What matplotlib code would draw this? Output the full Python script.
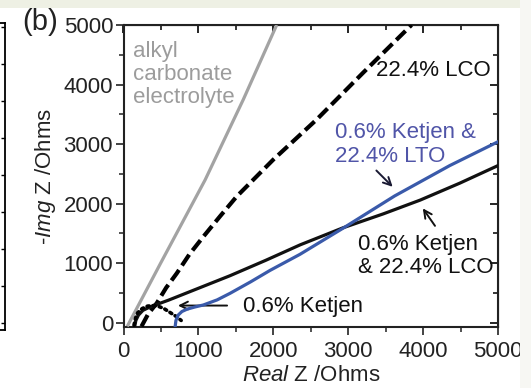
import matplotlib
matplotlib.use("Agg")
import matplotlib.pyplot as plt
from matplotlib.patches import Rectangle
from matplotlib.ticker import MultipleLocator

plt.rcParams['font.family'] = ['Liberation Sans', 'DejaVu Sans']
plt.rcParams['mathtext.fontset'] = 'custom'
plt.rcParams['mathtext.rm'] = 'Liberation Sans'
plt.rcParams['mathtext.it'] = 'Liberation Sans:italic'

# ---- data (Real Z, -Img Z) in Ohms ----
alkyl_x = [50, 495, 1090, 1600, 2045]
alkyl_y = [-60, 1000, 2400, 3750, 5000]

lco_x = [240, 330, 444, 570, 711, 880, 1067, 1290, 1511, 2000, 2578, 3200, 3845]
lco_y = [-60, 150, 330, 590, 831, 1150, 1448, 1790, 2121, 2740, 3412, 4200, 5000]

ket_lco_x = [150, 165, 200, 260, 360, 600, 1000, 1420, 1900, 2360, 2930, 3470, 3960, 4490, 5000]
ket_lco_y = [-60, 40, 130, 210, 270, 380, 580, 790, 1050, 1310, 1595, 1830, 2060, 2345, 2640]

ket_lto_x = [690, 700, 730, 780, 850, 950, 1067, 1250, 1422, 1700, 1956, 2356, 2933, 3620, 4356, 5000]
ket_lto_y = [-60, 40, 130, 190, 230, 265, 300, 385, 495, 690, 880, 1150, 1590, 2130, 2640, 3040]

ket_x = [140, 160, 190, 250, 320, 400, 470, 540, 620, 700, 770]
ket_y = [-40, 80, 170, 240, 280, 290, 275, 240, 175, 110, 40]

x_ticks = [0, 1000, 2000, 3000, 4000, 5000]
y_ticks = [0, 1000, 2000, 3000, 4000, 5000]

W, H = 531, 388
fig = plt.figure(figsize=(W / 100, H / 100), dpi=100)
fig.patch.set_facecolor('white')

# background bands of the original page
fig.patches.append(Rectangle((0, 1 - 8 / H), 520 / W, 8 / H, transform=fig.transFigure,
                             facecolor='#eef0e4', edgecolor='none', zorder=0))
fig.patches.append(Rectangle((520 / W, 0), 11 / W, 1, transform=fig.transFigure,
                             facecolor='#f7f7f3', edgecolor='none', zorder=0))

# partial neighbouring panel on the left
ax0 = fig.add_axes([5 / W - 0.5, 1 - 330 / H, 0.5, 307 / H])
ax0.set_xlim(0, 1)
ax0.set_ylim(0, 307)
ax0.spines['left'].set_visible(False)
for s in ['right', 'top', 'bottom']:
    ax0.spines[s].set_linewidth(1.3)
ax0.set_xticks([])
ax0.yaxis.tick_right()
ax0.set_yticks([7 + 37 * k for k in range(9)])
ax0.tick_params(axis='y', direction='in', length=3, width=1, labelright=False)

ax = fig.add_axes([123.5 / W, 1 - 327 / H, (498 - 123.5) / W, (327 - 25) / H])

ax.plot(alkyl_x, alkyl_y, color='#a3a3a3', lw=2.3, solid_capstyle='butt', zorder=3)
ax.plot(lco_x, lco_y, color='black', lw=3, dashes=(3.1, 1.3), zorder=3)
ax.plot(ket_lco_x, ket_lco_y, color='#111111', lw=2.3, zorder=4)
ax.plot(ket_lto_x, ket_lto_y, color='#3a5aaa', lw=2.3, zorder=5)
ax.plot(ket_x, ket_y, color='black', lw=2.6, linestyle=(0, (0.6, 1.1)),
        dash_capstyle='round', zorder=4)

ax.set_xlim(0, 5000)
ax.set_ylim(-70, 5000)
ax.set_xticks(x_ticks)
ax.set_yticks(y_ticks)
ax.xaxis.set_minor_locator(MultipleLocator(500))
ax.yaxis.set_minor_locator(MultipleLocator(500))
ax.tick_params(which='major', direction='out', length=6, width=1.2, labelsize=16,
               colors='#222222')
ax.tick_params(which='minor', direction='out', length=3.5, width=1.1, colors='#222222')
ax.tick_params(axis='x', pad=4)
ax.tick_params(axis='y', pad=1.5)
for s in ax.spines.values():
    s.set_linewidth(1.5)
    s.set_color('#222222')

# mirrored inward ticks on top/right
axt = ax.secondary_xaxis('top')
axt.set_xticks(x_ticks)
axt.xaxis.set_minor_locator(MultipleLocator(500))
axt.tick_params(which='major', direction='in', length=6, width=1.2, labeltop=False)
axt.tick_params(which='minor', direction='in', length=3.5, width=1.1)
axr = ax.secondary_yaxis('right')
axr.set_yticks(y_ticks)
axr.yaxis.set_minor_locator(MultipleLocator(500))
axr.tick_params(which='major', direction='in', length=6, width=1.2, labelright=False)
axr.tick_params(which='minor', direction='in', length=3.5, width=1.1)

ax.set_xlabel(r'$\mathit{Real}$ Z /Ohms', fontsize=16, labelpad=2, color='#222222')
ax.set_ylabel(r'-$\mathit{Img}$ Z /Ohms', fontsize=16, labelpad=4, color='#222222')

# annotations
ax.text(130, 4170, 'alkyl\ncarbonate\nelectrolyte', color='#9c9c9c', fontsize=16,
        ha='left', va='center', linespacing=1.13)
ax.text(3370, 4230, '22.4% LCO', color='#111111', fontsize=16, ha='left', va='center')
ax.text(2822, 3000, '0.6% Ketjen &\n22.4% LTO', color='#5055a8', fontsize=16,
        ha='left', va='center', linespacing=1.2)
ax.annotate('', xy=(3620, 2250), xytext=(3350, 2590),
            arrowprops=dict(arrowstyle='->', color='#1a1a33', lw=1.4, mutation_scale=14))
ax.text(3130, 1120, '0.6% Ketjen\n& 22.4% LCO', color='#111111', fontsize=16,
        ha='left', va='center', linespacing=1.15)
ax.annotate('', xy=(3975, 1960), xytext=(4180, 1590),
            arrowprops=dict(arrowstyle='->', color='#111111', lw=1.4, mutation_scale=14))
ax.text(1600, 280, '0.6% Ketjen', color='#111111', fontsize=16, ha='left', va='center')
ax.annotate('', xy=(690, 290), xytext=(1420, 290),
            arrowprops=dict(arrowstyle='->', color='#111111', lw=1.4, mutation_scale=14))

fig.text(22 / W, 1 - 22 / H, '(b)', fontsize=21, ha='left', va='center', color='#222222')

fig.savefig('out.png', dpi=100)
